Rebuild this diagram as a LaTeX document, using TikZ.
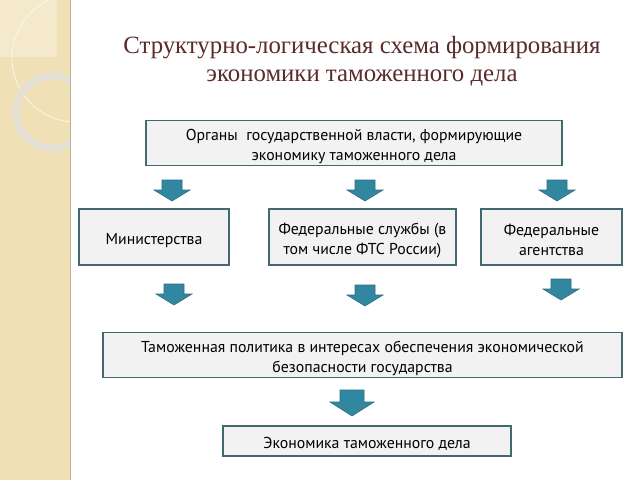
\documentclass[tikz,border=0pt]{standalone}
\usepackage{fontspec}
\setmainfont{PT Sans}
\newfontfamily\titlefont{Liberation Serif}
\usepackage{xcolor}

\definecolor{panelbeige}{HTML}{EFE0B6}
\definecolor{cornerbeige}{HTML}{F4E9CB}
\definecolor{ringgray}{HTML}{E4E1D9}
\definecolor{titlebrown}{HTML}{5B2B2B}
\definecolor{boxfill}{HTML}{F2F2F2}
\definecolor{boxline}{HTML}{44686F}
\definecolor{arrowteal}{HTML}{3287A0}
\definecolor{arrowline}{HTML}{2A6F82}

\tikzset{
  schemebox/.style={draw=boxline, line width=1.6pt, fill=boxfill,
    align=center, inner sep=2pt, font=\fontsize{15.8}{20}\selectfont},
  arrowstyle/.style={fill=arrowteal, draw=arrowline, line width=0.6pt, line join=miter}
}

% taller first line, so the box text sits a little lower
\newcommand{\boxdown}{\rule{0pt}{17.5pt}}

% block arrow pointing down: top centre x, y
\newcommand{\tamarrow}[2]{%
  \draw[arrowstyle] (#1,#2) ++(-10,0) -- ++(20,0) -- ++(0,10) -- ++(8,0)
    -- ++(-18,11) -- ++(-18,-11) -- ++(8,0) -- cycle;}

\begin{document}
\begin{tikzpicture}[x=1pt, y=-1pt]
    \useasboundingbox (0,0) rectangle (640,480);
    \fill[white] (0,0) rectangle (640,480);

    % Left panel
    \fill[panelbeige] (0,0) rectangle (70,480);
    \draw[panelbeige!80!black, line width=1pt] (70,0) -- (70,480);
    \begin{scope}
        \clip (0,0) rectangle (70,480);
        \fill[cornerbeige] (0,0) rectangle (57,57);
        \draw[white!70!panelbeige, line width=0.8pt] (76,58) circle (64);
        \draw[ringgray, opacity=0.9, line width=7pt] (52,112) circle (36);
    \end{scope}

    % Title
    \node[titlebrown, font=\titlefont\fontsize{24.8}{28}\selectfont, align=center]
        (title) at (362,61) {Структурно-логическая схема формирования\\экономики таможенного дела};

    % Boxes
    \node[schemebox, minimum width=416, minimum height=40] (organy) at (354,143)
        {\boxdown Органы \ государственной власти, формирующие\\экономику таможенного дела};
    \node[schemebox, minimum width=150, minimum height=56] (minist) at (154,237)
        {\boxdown Министерства};
    \node[schemebox, minimum width=187, minimum height=56] (sluzhby) at (362.5,237)
        {\boxdown Федеральные службы (в\\том числе ФТС России)};
    \node[schemebox, minimum width=141, minimum height=56] (agentstva) at (551.5,237)
        {\boxdown Федеральные\\агентства};
    \node[schemebox, minimum width=519, minimum height=40] (politika) at (362.5,355)
        {\boxdown Таможенная политика в интересах обеспечения экономической\\безопасности государства};
    \node[schemebox, minimum width=288, minimum height=30] (ekonomika) at (367,441)
        {\boxdown Экономика таможенного дела};

    % Arrows
    \tamarrow{172}{180}
    \tamarrow{365}{180}
    \tamarrow{557}{180}
    \tamarrow{174}{284}
    \tamarrow{365}{285}
    \tamarrow{561}{279}
    \draw[arrowstyle] (352,390) ++(-12,0) -- ++(24,0) -- ++(0,12) -- ++(10,0)
        -- ++(-22,14) -- ++(-22,-14) -- ++(10,0) -- cycle;
\end{tikzpicture}
\end{document}
